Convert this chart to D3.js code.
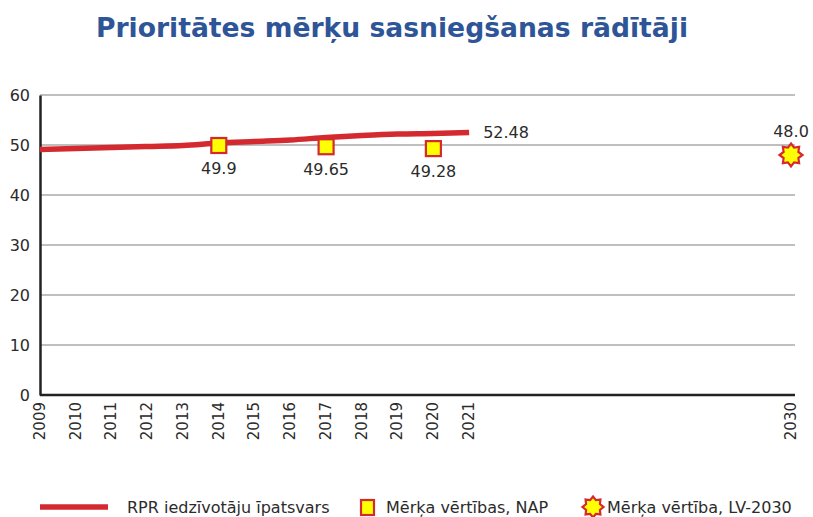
<!DOCTYPE html>
<html>
<head>
<meta charset="utf-8">
<script src="https://cdn.jsdelivr.net/npm/d3@7/dist/d3.min.js"></script>
<style>
  body { margin: 0; background: #fff; }
  svg { display: block; font-family: "DejaVu Sans", Verdana, sans-serif; }
</style>
</head>
<body>
<svg id="chart" width="813" height="517"></svg>
<script>
// Share of population in the capital region, by year
const years = [2009, 2010, 2011, 2012, 2013, 2014, 2015, 2016, 2017, 2018, 2019, 2020, 2021];
const rprValues = [49.1, 49.3, 49.5, 49.7, 49.9, 50.4, 50.7, 51.0, 51.5, 51.9, 52.2, 52.3, 52.48];

// National plan target values
const napYears = [2014, 2017, 2020];
const napValues = [49.9, 49.65, 49.28];
const napLabels = ["49.9", "49.65", "49.28"];

// LV-2030 target
const lvYears = [2030];
const lvValues = [48.0];
const lvLabels = ["48.0"];

const tickYears = [2009, 2010, 2011, 2012, 2013, 2014, 2015, 2016, 2017, 2018, 2019, 2020, 2021, 2030];
const yTicks = [0, 10, 20, 30, 40, 50, 60];

const title = "Prioritātes mērķu sasniegšanas rādītāji";
const legendLabels = ["RPR iedzīvotāju īpatsvars", "Mērķa vērtības, NAP", "Mērķa vērtība, LV-2030"];

const red = "#d42a2f";
const yellow = "#ffff00";
const ink = "#2b2b2b";

const svg = d3.select("#chart");
const plotLeft = 40, plotRight = 795, plotTop = 95, plotBottom = 395;

const x = d3.scaleLinear().domain([2009, 2030]).range([plotLeft, 791]);
const y = d3.scaleLinear().domain([0, 60]).range([plotBottom, plotTop]);

// Title
svg.append("text")
  .attr("x", 392).attr("y", 37)
  .attr("text-anchor", "middle")
  .attr("font-size", 26.6).attr("font-weight", "bold")
  .attr("fill", "#2e5597")
  .text(title);

// Horizontal gridlines
svg.append("g").selectAll("line")
  .data(yTicks.filter(d => d > 0))
  .join("line")
  .attr("x1", plotLeft).attr("x2", plotRight)
  .attr("y1", d => y(d)).attr("y2", d => y(d))
  .attr("stroke", "#808080").attr("stroke-width", 1.2);

// Y axis
const yAxis = svg.append("g")
  .attr("transform", `translate(${plotLeft},0)`)
  .call(d3.axisLeft(y).tickValues(yTicks).tickSize(0).tickPadding(10));
yAxis.select(".domain").attr("stroke", "#222").attr("stroke-width", 2.5);
yAxis.selectAll("text").attr("font-size", 16).attr("fill", ink)
  .attr("font-family", "DejaVu Sans, sans-serif");

// X axis
const xAxis = svg.append("g")
  .attr("transform", `translate(0,${plotBottom})`)
  .call(d3.axisBottom(x).tickValues(tickYears).tickFormat(d3.format("d")).tickSize(0));
xAxis.select(".domain").attr("stroke", "#222").attr("stroke-width", 2.5)
  .attr("d", `M${plotLeft},0H${plotRight}`);
xAxis.selectAll("text")
  .attr("font-size", 15).attr("fill", ink)
  .attr("font-family", "DejaVu Sans, sans-serif")
  .attr("transform", "rotate(-90)")
  .attr("text-anchor", "end")
  .attr("x", -7).attr("y", -1).attr("dy", "0.35em");

// Population share line
const line = d3.line()
  .x((d, i) => x(years[i]))
  .y(d => y(d))
  .curve(d3.curveMonotoneX);
svg.append("path")
  .datum(rprValues)
  .attr("d", line)
  .attr("fill", "none")
  .attr("stroke", red)
  .attr("stroke-width", 5.5);

svg.append("text")
  .attr("x", x(2021) + 14).attr("y", y(rprValues[rprValues.length - 1]))
  .attr("dy", "0.35em")
  .attr("font-size", 16).attr("fill", ink)
  .text(d3.format(".2f")(rprValues[rprValues.length - 1]));

// NAP target markers
const nap = svg.append("g").selectAll("g")
  .data(napYears.map((yr, i) => ({ yr, v: napValues[i], label: napLabels[i] })))
  .join("g");
nap.append("rect")
  .attr("x", d => x(d.yr) - 7.5).attr("y", d => y(d.v) - 7.5)
  .attr("width", 15).attr("height", 15)
  .attr("fill", yellow).attr("stroke", red).attr("stroke-width", 2.2);
nap.append("text")
  .attr("x", d => x(d.yr)).attr("y", d => y(d.v) + 28)
  .attr("text-anchor", "middle")
  .attr("font-size", 16).attr("fill", ink)
  .text(d => d.label);

// 8-pointed star shape
function starPath(cx, cy, rOut, rIn, n) {
  const pts = [];
  for (let i = 0; i < n * 2; i++) {
    const r = i % 2 === 0 ? rOut : rIn;
    const a = Math.PI * i / n - Math.PI / 2;
    pts.push([cx + r * Math.cos(a), cy + r * Math.sin(a)]);
  }
  return "M" + pts.map(p => p.join(",")).join("L") + "Z";
}

// LV-2030 target marker
const lv = svg.append("g").selectAll("g")
  .data(lvYears.map((yr, i) => ({ yr, v: lvValues[i], label: lvLabels[i] })))
  .join("g");
lv.append("path")
  .attr("d", d => starPath(x(d.yr), y(d.v), 11.5, 8, 8))
  .attr("fill", yellow).attr("stroke", red).attr("stroke-width", 2.2);
lv.append("text")
  .attr("x", d => x(d.yr)).attr("y", d => y(d.v) - 18)
  .attr("text-anchor", "middle")
  .attr("font-size", 16).attr("fill", ink)
  .text(d => d.label);

// Legend
const leg = svg.append("g").attr("font-size", 16);
leg.append("line").attr("x1", 40).attr("x2", 108).attr("y1", 507).attr("y2", 507)
  .attr("stroke", red).attr("stroke-width", 5.5);
leg.append("text").attr("x", 127).attr("y", 507).attr("dy", "0.35em").attr("fill", ink)
  .text(legendLabels[0]);
leg.append("rect").attr("x", 361).attr("y", 500).attr("width", 13).attr("height", 15)
  .attr("fill", yellow).attr("stroke", red).attr("stroke-width", 2.2);
leg.append("text").attr("x", 386).attr("y", 507).attr("dy", "0.35em").attr("fill", ink)
  .text(legendLabels[1]);
leg.append("path").attr("d", starPath(593, 507, 10.5, 7.5, 8))
  .attr("fill", yellow).attr("stroke", red).attr("stroke-width", 2.2);
leg.append("text").attr("x", 607).attr("y", 507).attr("dy", "0.35em").attr("fill", ink)
  .text(legendLabels[2]);
</script>
</body>
</html>
